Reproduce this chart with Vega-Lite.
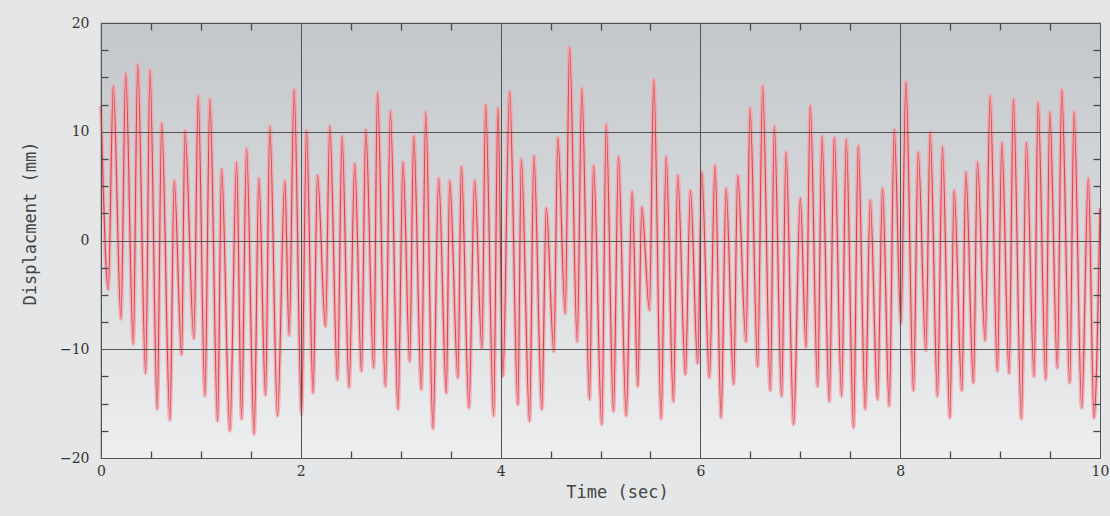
{
  "$schema": "https://vega.github.io/schema/vega-lite/v6.json",
  "width": 999,
  "height": 435,
  "autosize": {"type": "none"},
  "padding": {"left": 101, "top": 23, "right": 10, "bottom": 58},
  "background": "#e4e6e7",
  "config": {"view": {"stroke": "#666666", "strokeWidth": 1.2}},
  "data": {"values": [
    {"t":0,"d":12.4},{"t":0.073,"d":-4.5},{"t":0.123,"d":14.2},{"t":0.2,"d":-7.2},{"t":0.247,"d":15.4},{"t":0.323,"d":-9.5},{"t":0.367,"d":16.2},{"t":0.447,"d":-12.2},{"t":0.49,"d":15.7},{"t":0.563,"d":-15.5},{"t":0.607,"d":10.8},{"t":0.69,"d":-16.5},{"t":0.733,"d":5.5},{"t":0.807,"d":-10.5},{"t":0.84,"d":10.1},{"t":0.93,"d":-9},{"t":0.973,"d":13.3},{"t":1.04,"d":-14.3},{"t":1.09,"d":13},{"t":1.167,"d":-16.6},{"t":1.207,"d":6.6},{"t":1.29,"d":-17.5},{"t":1.357,"d":7.2},{"t":1.407,"d":-16.4},{"t":1.457,"d":8.4},{"t":1.533,"d":-17.8},{"t":1.58,"d":5.7},{"t":1.647,"d":-14.2},{"t":1.69,"d":10.5},{"t":1.767,"d":-16.1},{"t":1.84,"d":5.5},{"t":1.883,"d":-8.7},{"t":1.933,"d":13.9},{"t":2.007,"d":-16},
    {"t":2.057,"d":10.1},{"t":2.123,"d":-14},{"t":2.167,"d":6},{"t":2.247,"d":-7.9},{"t":2.29,"d":10.5},{"t":2.367,"d":-12.8},{"t":2.413,"d":9.6},{"t":2.483,"d":-13.5},{"t":2.54,"d":7.1},{"t":2.607,"d":-12},{"t":2.65,"d":10.2},{"t":2.73,"d":-11.7},{"t":2.767,"d":13.6},{"t":2.847,"d":-13.4},{"t":2.897,"d":11.9},{"t":2.973,"d":-15.5},{"t":3.023,"d":7.2},{"t":3.09,"d":-11.1},{"t":3.13,"d":9.6},{"t":3.207,"d":-13.7},{"t":3.25,"d":11.8},{"t":3.323,"d":-17.3},{"t":3.38,"d":5.7},{"t":3.457,"d":-14},{"t":3.49,"d":5.5},{"t":3.573,"d":-12.6},{"t":3.607,"d":6.8},{"t":3.683,"d":-15.4},{"t":3.74,"d":5.5},{"t":3.813,"d":-9.9},{"t":3.85,"d":12.5},{"t":3.93,"d":-16.1},{"t":3.973,"d":12.2},
    {"t":4.023,"d":-12.5},{"t":4.09,"d":13.7},{"t":4.173,"d":-15.1},{"t":4.207,"d":7.5},{"t":4.29,"d":-16.6},{"t":4.333,"d":7.8},{"t":4.413,"d":-15.5},{"t":4.457,"d":3},{"t":4.533,"d":-10.2},{"t":4.573,"d":9.5},{"t":4.647,"d":-6.7},{"t":4.69,"d":17.8},{"t":4.767,"d":-9.3},{"t":4.813,"d":14},{"t":4.89,"d":-14.6},{"t":4.93,"d":6.9},{"t":5.013,"d":-16.9},{"t":5.057,"d":10.7},{"t":5.13,"d":-15.7},{"t":5.18,"d":7.7},{"t":5.257,"d":-16.1},{"t":5.317,"d":4.5},{"t":5.373,"d":-13.4},{"t":5.413,"d":3.1},{"t":5.49,"d":-6.4},{"t":5.533,"d":14.8},{"t":5.607,"d":-16.4},{"t":5.657,"d":7.7},{"t":5.73,"d":-14.8},{"t":5.773,"d":6},{"t":5.85,"d":-12.3},{"t":5.9,"d":4.6},{"t":5.973,"d":-11.3},{"t":6.013,"d":6.3},
    {"t":6.09,"d":-12.6},{"t":6.147,"d":6.9},{"t":6.207,"d":-16.3},{"t":6.257,"d":4.8},{"t":6.333,"d":-13.2},{"t":6.373,"d":6},{"t":6.457,"d":-9.3},{"t":6.497,"d":12.2},{"t":6.573,"d":-11.6},{"t":6.623,"d":14.2},{"t":6.7,"d":-13.8},{"t":6.74,"d":10.5},{"t":6.813,"d":-14.3},{"t":6.857,"d":8.1},{"t":6.933,"d":-16.9},{"t":7.0,"d":3.9},{"t":7.057,"d":-9.8},{"t":7.1,"d":12.4},{"t":7.173,"d":-13.4},{"t":7.217,"d":9.6},{"t":7.29,"d":-14.8},{"t":7.34,"d":9.5},{"t":7.413,"d":-14.3},{"t":7.46,"d":9.3},{"t":7.533,"d":-17.2},{"t":7.58,"d":8.7},{"t":7.65,"d":-15.5},{"t":7.7,"d":3.7},{"t":7.773,"d":-14.6},{"t":7.823,"d":4.8},{"t":7.89,"d":-15.2},{"t":7.94,"d":10.2},{"t":8.007,"d":-7.6},
    {"t":8.057,"d":14.6},{"t":8.133,"d":-13.8},{"t":8.18,"d":8.1},{"t":8.257,"d":-10.1},{"t":8.3,"d":10},{"t":8.373,"d":-14.3},{"t":8.423,"d":8.6},{"t":8.497,"d":-16.3},{"t":8.54,"d":4.6},{"t":8.617,"d":-13.8},{"t":8.657,"d":6.3},{"t":8.733,"d":-13.1},{"t":8.773,"d":7.2},{"t":8.85,"d":-9.2},{"t":8.9,"d":13.3},{"t":8.973,"d":-12},{"t":9.017,"d":9},{"t":9.09,"d":-12.2},{"t":9.133,"d":13},{"t":9.213,"d":-16.4},{"t":9.263,"d":9},{"t":9.34,"d":-12.5},{"t":9.38,"d":12.7},{"t":9.457,"d":-12.8},{"t":9.497,"d":11.8},{"t":9.573,"d":-11.7},{"t":9.617,"d":13.9},{"t":9.697,"d":-13.1},{"t":9.74,"d":11.8},{"t":9.817,"d":-15.4},{"t":9.883,"d":5.7},{"t":9.94,"d":-16.3},{"t":10.0,"d":3}
  ]},
  "resolve": {"axis": {"x": "independent", "y": "independent"}},
  "layer": [
    {
      "data": {"values": [{}]},
      "mark": {"type": "rect", "color": {"gradient": "linear", "x1": 0, "y1": 0, "x2": 0, "y2": 1, "stops": [{"offset": 0, "color": "#c4c7ca"}, {"offset": 1, "color": "#eceeef"}]}},
      "encoding": {
        "x": {"datum": 0, "type": "quantitative", "scale": {"domain": [0, 10], "nice": false, "zero": false},
          "axis": {"orient": "bottom", "zindex": 2, "offset": -7, "values": [0.5,1,1.5,2.5,3,3.5,4.5,5,5.5,6.5,7,7.5,8.5,9,9.5], "ticks": true, "tickSize": 7, "tickWidth": 1.3, "tickColor": "#4a4a4a", "tickOpacity": 1, "labels": true, "labelExpr": "''", "domain": false, "grid": false, "title": null}},
        "x2": {"datum": 10},
        "y": {"datum": -20, "type": "quantitative", "scale": {"domain": [-20, 20], "nice": false, "zero": false},
          "axis": {"orient": "left", "zindex": 2, "offset": -7, "values": [-17.5,-15,-12.5,-7.5,-5,-2.5,2.5,5,7.5,12.5,15,17.5], "ticks": true, "tickSize": 7, "tickWidth": 1.3, "tickColor": "#4a4a4a", "tickOpacity": 1, "labels": true, "labelExpr": "''", "domain": false, "grid": false, "title": null}},
        "y2": {"datum": 20}
      }
    },
    {
      "mark": {"type": "line", "interpolate": "monotone", "color": "#f2a3aa", "strokeWidth": 3.8, "opacity": 0.8},
      "encoding": {
        "x": {"field": "t", "type": "quantitative",
          "axis": {"orient": "top", "zindex": 2, "offset": -7, "values": [0.5,1,1.5,2.5,3,3.5,4.5,5,5.5,6.5,7,7.5,8.5,9,9.5], "ticks": true, "tickSize": 7, "tickWidth": 1.3, "tickColor": "#4a4a4a", "tickOpacity": 1, "labels": true, "labelExpr": "''", "domain": false, "grid": false, "title": null}},
        "y": {"field": "d", "type": "quantitative",
          "axis": {"orient": "right", "zindex": 2, "offset": -7, "values": [-17.5,-15,-12.5,-7.5,-5,-2.5,2.5,5,7.5,12.5,15,17.5], "ticks": true, "tickSize": 7, "tickWidth": 1.3, "tickColor": "#4a4a4a", "tickOpacity": 1, "labels": true, "labelExpr": "''", "domain": false, "grid": false, "title": null}}
      }
    },
    {
      "mark": {"type": "line", "interpolate": "monotone", "color": "#d9434f", "strokeWidth": 1.1},
      "encoding": {
        "x": {"field": "t", "type": "quantitative",
          "axis": {"orient": "bottom", "zindex": 1, "values": [0,2,4,6,8,10], "format": "d", "grid": true, "gridColor": "#555555", "gridOpacity": 1, "gridWidth": 1, "ticks": false, "tickSize": 0, "domain": false, "labelFont": "DejaVu Serif", "labelFontSize": 14, "labelColor": "#333333", "labelPadding": 6, "labelFlush": false, "title": "Time (sec)", "titleFont": "DejaVu Sans Mono", "titleFontSize": 17, "titleFontWeight": "normal", "titleColor": "#444444", "titlePadding": 6, "titleX": 516}},
        "y": {"field": "d", "type": "quantitative",
          "axis": {"orient": "left", "zindex": 1, "values": [-20,-10,0,10,20], "format": "d", "grid": true, "gridColor": "#555555", "gridOpacity": 1, "gridWidth": 1, "ticks": false, "tickSize": 0, "domain": false, "labelFont": "DejaVu Serif", "labelFontSize": 14, "labelColor": "#333333", "labelPadding": 12, "labelFlush": false, "title": "Displacment (mm)", "titleFont": "DejaVu Sans Mono", "titleFontSize": 17, "titleFontWeight": "normal", "titleColor": "#444444", "titlePadding": 20, "titleY": 200}}
      }
    }
  ]
}
